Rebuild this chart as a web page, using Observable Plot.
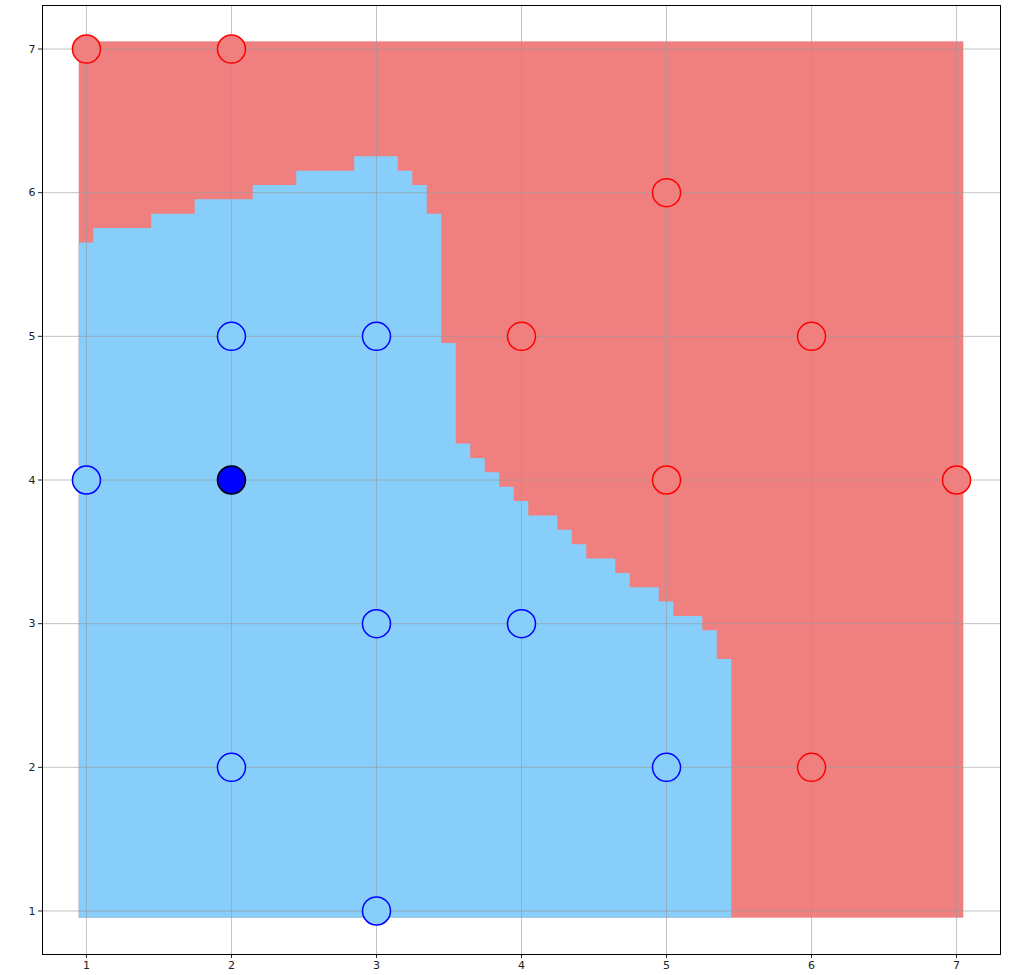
<!DOCTYPE html>
<html>
<head>
<meta charset="utf-8">
<script src="https://cdn.jsdelivr.net/npm/d3@7"></script>
<script src="https://cdn.jsdelivr.net/npm/@observablehq/plot@0.6"></script>
<style>
  html, body { margin: 0; padding: 0; background: #fff; }
  #chart svg { display: block; }
</style>
</head>
<body>
<div id="chart"></div>
<script>
// Predicted-class grid: cells of 0.1 centred on 1.0 … 7.0
const gridExtent = [0.95, 7.05];
const cellWidth = 0.1;

// Columns that hold "blue" cells: each is blue from the bottom of the grid up to colTop
const colX = [1.0, 1.1, 1.2, 1.3, 1.4, 1.5, 1.6, 1.7, 1.8, 1.9,
              2.0, 2.1, 2.2, 2.3, 2.4, 2.5, 2.6, 2.7, 2.8, 2.9,
              3.0, 3.1, 3.2, 3.3, 3.4, 3.5, 3.6, 3.7, 3.8, 3.9,
              4.0, 4.1, 4.2, 4.3, 4.4, 4.5, 4.6, 4.7, 4.8, 4.9,
              5.0, 5.1, 5.2, 5.3, 5.4];
const colTop = [5.65, 5.75, 5.75, 5.75, 5.75, 5.85, 5.85, 5.85, 5.95, 5.95,
                5.95, 5.95, 6.05, 6.05, 6.05, 6.15, 6.15, 6.15, 6.15, 6.25,
                6.25, 6.25, 6.15, 6.05, 5.85, 4.95, 4.25, 4.15, 4.05, 3.95,
                3.85, 3.75, 3.75, 3.65, 3.55, 3.45, 3.45, 3.35, 3.25, 3.25,
                3.15, 3.05, 3.05, 2.95, 2.75];

// Training points
const redX  = [1, 2, 5, 4, 6, 5, 7, 6];
const redY  = [7, 7, 6, 5, 5, 4, 4, 2];
const blueX = [2, 3, 1, 3, 4, 2, 5, 3];
const blueY = [5, 5, 4, 3, 3, 2, 2, 1];

// Query point
const queryX = [2];
const queryY = [4];

const ticks = [1, 2, 3, 4, 5, 6, 7];

// Step outline of the blue region (left edge of each column, plus the closing right edge)
const half = cellWidth / 2;
const blueArea = colX.map((x, i) => ({x: x - half, top: colTop[i]}));
blueArea.push({x: colX[colX.length - 1] + half, top: colTop[colTop.length - 1]});

const redPts = redX.map((x, i) => ({x, y: redY[i]}));
const bluePts = blueX.map((x, i) => ({x, y: blueY[i]}));
const queryPts = queryX.map((x, i) => ({x, y: queryY[i]}));

const LIGHT_RED = "#f08080";
const LIGHT_BLUE = "#87cefa";

const chart = Plot.plot({
  width: 1010,
  height: 975,
  marginLeft: 42,
  marginRight: 10,
  marginTop: 5,
  marginBottom: 21,
  style: {fontFamily: "DejaVu Sans, sans-serif", fontSize: "11px", color: "#222", background: "#fff"},
  x: {domain: [0.697, 7.303], ticks, tickFormat: d => String(d), tickSize: 4, tickPadding: 3, label: null},
  y: {domain: [0.697, 7.303], ticks, tickFormat: d => String(d), tickSize: 4, tickPadding: 3, label: null},
  marks: [
    // red class covers the whole grid …
    Plot.rect([0], {
      x1: () => gridExtent[0], x2: () => gridExtent[1],
      y1: () => gridExtent[0], y2: () => gridExtent[1],
      fill: LIGHT_RED
    }),
    // … and the blue class is laid over it as one stepped region
    Plot.areaY(blueArea, {
      x: "x", y1: () => gridExtent[0], y2: "top",
      curve: "step-after", fill: LIGHT_BLUE
    }),
    // grid lines
    Plot.ruleX(ticks, {stroke: "#999", strokeOpacity: 0.6, strokeWidth: 1}),
    Plot.ruleY(ticks, {stroke: "#999", strokeOpacity: 0.6, strokeWidth: 1}),
    // points
    Plot.dot(redPts, {x: "x", y: "y", r: 14, fill: LIGHT_RED, stroke: "#ff0000", strokeWidth: 1.5}),
    Plot.dot(bluePts, {x: "x", y: "y", r: 14, fill: LIGHT_BLUE, stroke: "#0000ff", strokeWidth: 1.5}),
    Plot.dot(queryPts, {x: "x", y: "y", r: 14, fill: "#0000ff", stroke: "#000", strokeWidth: 1.5}),
    Plot.frame({stroke: "#000", strokeWidth: 1})
  ]
});

document.getElementById("chart").appendChild(chart);
</script>
</body>
</html>
